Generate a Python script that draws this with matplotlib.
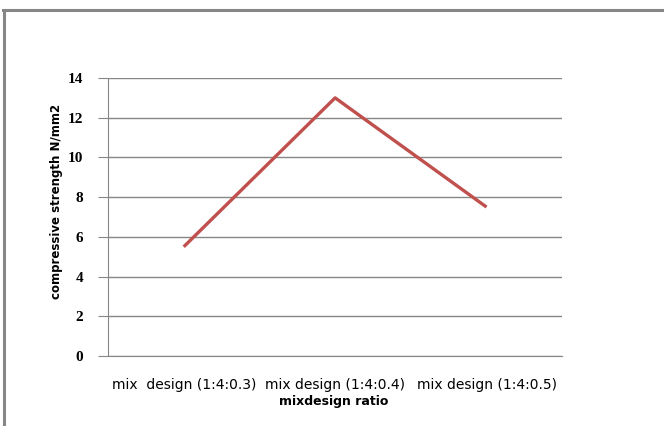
import matplotlib
matplotlib.use("Agg")
import matplotlib.pyplot as plt
from matplotlib.lines import Line2D
from matplotlib.transforms import blended_transform_factory

# data
categories = ["mix  design (1:4:0.3)", "mix design (1:4:0.4)", "mix design (1:4:0.5)"]
strength = [5.5, 13.0, 7.5]
yticks = [0, 2, 4, 6, 8, 10, 12, 14]

grey = "#868686"

fig = plt.figure(figsize=(6.64, 4.26), dpi=100)
ax = fig.add_axes([0.1627, 0.1643, 0.684, 0.6526])

x = range(len(categories))
ax.plot(x, strength, color="#C0504D", lw=2.4, solid_capstyle="butt")

ax.set_xlim(-0.5, len(categories) - 0.5)
ax.set_ylim(0, 14)
ax.set_yticks(yticks)
ax.set_yticklabels([str(v) for v in yticks], family="Liberation Serif",
                   fontsize=11, fontweight="bold")
ax.set_xticks([])
ax.yaxis.grid(True, color=grey, lw=1)
ax.set_axisbelow(True)
ax.tick_params(axis="y", length=7, color=grey, pad=11)

for s in ["top", "right"]:
    ax.spines[s].set_visible(False)
ax.spines["left"].set_color(grey)
ax.spines["bottom"].set_color(grey)

# category labels under the axis (x in data, y in figure coords)
trans = blended_transform_factory(ax.transData, fig.transFigure)
for i, c in enumerate(categories):
    ax.text(i, 1 - 385 / 426, c, transform=trans, ha="center", va="center",
            fontsize=10, family="DejaVu Sans")

fig.text(334 / 664, 1 - 401 / 426, "mixdesign ratio", ha="center", va="center",
         fontsize=9, fontweight="bold", family="DejaVu Sans")
fig.text(57 / 664, 1 - 201 / 426, "compressive strength N/mm2", rotation=90,
         ha="center", va="center", fontsize=8.5, fontweight="bold",
         family="DejaVu Sans")

# outer frame (top and left edges visible)
fig.add_artist(Line2D([4 / 664, 4 / 664], [0, 1 - 10 / 426], color=grey, lw=2.2,
                      transform=fig.transFigure))
fig.add_artist(Line2D([3 / 664, 1], [1 - 10 / 426, 1 - 10 / 426], color=grey, lw=2.2,
                      transform=fig.transFigure))

fig.savefig("out.png", dpi=100)
